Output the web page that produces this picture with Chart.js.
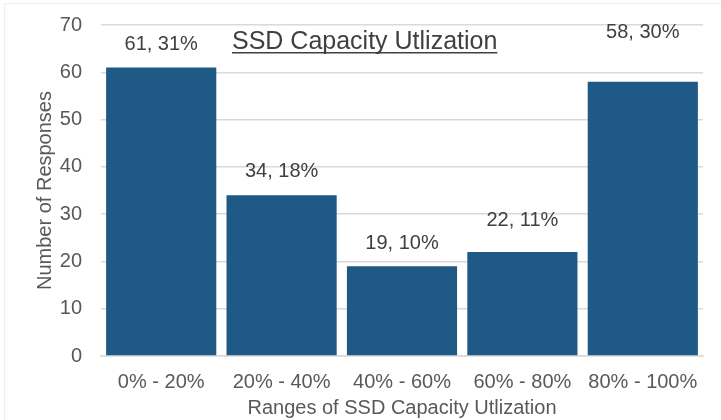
<!DOCTYPE html>
<html>
<head>
<meta charset="utf-8">
<script src="https://cdn.jsdelivr.net/npm/chart.js@4.4.1/dist/chart.umd.min.js"></script>
<style>
  html, body { margin: 0; padding: 0; background: #fff; }
  #wrap { position: relative; width: 721px; height: 420px; overflow: hidden; }
  #frame { position: absolute; left: 4px; top: 3px; width: 730px; height: 430px; border: 1px solid #eeeeee; box-sizing: border-box; }
  canvas { position: absolute; left: 0; top: 0; }
</style>
</head>
<body>
<div id="wrap">
  <div id="frame"></div>
  <canvas id="myChart" width="721" height="420"></canvas>
</div>
<script>
const categories = ['0% - 20%', '20% - 40%', '40% - 60%', '60% - 80%', '80% - 100%'];
const responses = [61, 34, 19, 22, 58];
const percents = [31, 18, 10, 11, 30];
const yTicks = [0, 10, 20, 30, 40, 50, 60, 70];

const textColor = '#595959';
const fontFamily = '"Liberation Sans", Arial, sans-serif';

// labels above bars, "value, pct%"
const barLabels = {
    id: 'barLabels',
    afterDatasetsDraw(chart) {
        const ctx = chart.ctx;
        const meta = chart.getDatasetMeta(0);
        const lift = [23, 24, 23, 31, 49];
        ctx.save();
        ctx.font = '20px ' + fontFamily;
        ctx.fillStyle = '#404040';
        ctx.textAlign = 'center';
        ctx.textBaseline = 'middle';
        meta.data.forEach((bar, i) => {
            ctx.fillText(responses[i] + ', ' + percents[i] + '%', bar.x, bar.y - lift[i]);
        });
        ctx.restore();
    }
};

// title sits inside the plot, underlined
const innerTitle = {
    id: 'innerTitle',
    afterDraw(chart) {
        const ctx = chart.ctx;
        const text = 'SSD Capacity Utlization';
        ctx.save();
        ctx.font = '25px ' + fontFamily;
        ctx.fillStyle = '#404040';
        ctx.textAlign = 'left';
        ctx.textBaseline = 'alphabetic';
        const x = 232, y = 49;
        ctx.fillText(text, x, y);
        const w = ctx.measureText(text).width;
        ctx.fillRect(x, y + 3, w, 1.5);
        ctx.restore();
    }
};

var ctx = document.getElementById('myChart').getContext('2d');
var chart = new Chart(ctx, { //eslint-disable-line
    type: 'bar',
    data: {
        labels: categories,
        datasets: [{
            data: responses,
            backgroundColor: '#1F5A87',
            borderWidth: 0,
            categoryPercentage: 1,
            barPercentage: 0.915
        }]
    },
    options: {
        responsive: false,
        animation: false,
        layout: { padding: { left: 33, right: 18, top: 25, bottom: 0 } },
        plugins: {
            legend: { display: false },
            tooltip: { enabled: false }
        },
        scales: {
            x: {
                grid: { display: false, drawTicks: false },
                border: { color: '#d9d9d9', width: 1.5 },
                ticks: { color: textColor, font: { size: 20, family: fontFamily }, padding: 14, maxRotation: 0 },
                title: { display: true, text: 'Ranges of SSD Capacity Utlization', color: textColor,
                    font: { size: 20, family: fontFamily }, padding: { top: 0, bottom: 0 } },
                afterFit(scale) { scale.height = 64; }
            },
            y: {
                min: 0,
                max: 70,
                afterBuildTicks(scale) { scale.ticks = yTicks.map(v => ({ value: v })); },
                grid: { color: '#d9d9d9', lineWidth: 1.5, drawTicks: false },
                border: { display: false },
                ticks: { color: textColor, font: { size: 20, family: fontFamily }, padding: 19 },
                title: { display: true, text: 'Number of Responses', color: textColor,
                    font: { size: 20, family: fontFamily }, padding: { top: 0, bottom: 0 } },
                afterFit(scale) {
                    scale.width = 68;
                    scale.paddingTop = 0;
                    scale.paddingBottom = 0;
                }
            }
        }
    },
    plugins: [barLabels, innerTitle]
});
</script>
</body>
</html>
